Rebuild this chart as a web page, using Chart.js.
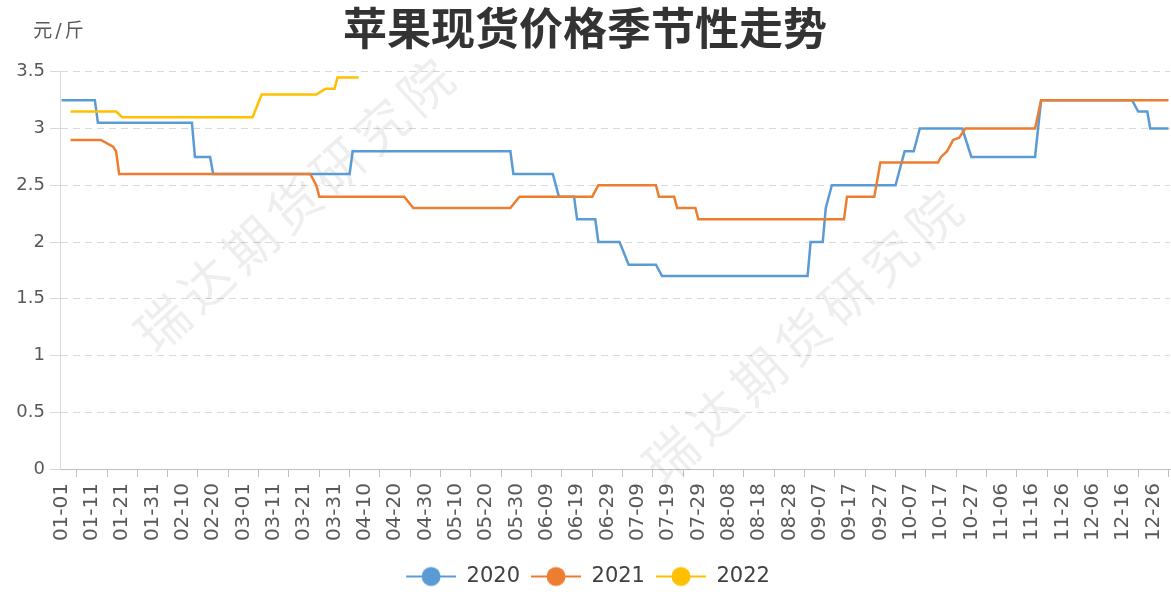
<!DOCTYPE html>
<html>
<head>
<meta charset="utf-8">
<title>苹果现货价格季节性走势</title>
<script src="https://cdn.jsdelivr.net/npm/chart.js@4.4.0/dist/chart.umd.min.js"></script>
<style>
  html, body { margin: 0; padding: 0; background: #fff; }
  .chart-box { width: 1171px; height: 592px; position: relative; }
</style>
</head>
<body>
<div class="chart-box"><canvas id="seasonal"></canvas></div>
<script>
// x = day of year (0 = 01-01), one tick label every 10 days
const tickLabels = ['01-01', '01-11', '01-21', '01-31', '02-10', '02-20', '03-01', '03-11', '03-21', '03-31',
  '04-10', '04-20', '04-30', '05-10', '05-20', '05-30', '06-09', '06-19', '06-29', '07-09', '07-19', '07-29',
  '08-08', '08-18', '08-28', '09-07', '09-17', '09-27', '10-07', '10-17', '10-27', '11-06', '11-16', '11-26',
  '12-06', '12-16', '12-26'];

const years = ['2020', '2021', '2022'];
const colors = ['#5B9BD5', '#ED7D31', '#FFC000'];

// [day, 元/斤] read at each price change
const price2020 = [[0, 3.25], [11, 3.25], [12, 3.05], [43, 3.05], [44, 2.75], [49, 2.75], [50, 2.6], [95, 2.6],
  [96, 2.8], [148, 2.8], [149, 2.6], [162, 2.6], [164, 2.4], [169, 2.4], [170, 2.2], [176, 2.2], [177, 2.0],
  [184, 2.0], [187, 1.8], [196, 1.8], [198, 1.7], [246, 1.7], [247, 2.0], [251, 2.0], [252, 2.3], [254, 2.5],
  [275, 2.5], [278, 2.8], [281, 2.8], [283, 3.0], [297, 3.0], [300, 2.75], [321, 2.75], [323, 3.25], [353, 3.25],
  [355, 3.15], [358, 3.15], [359, 3.0], [365, 3.0]];
const price2021 = [[3, 2.9], [13, 2.9], [17, 2.84], [18, 2.8], [19, 2.6], [82, 2.6], [84, 2.5], [85, 2.4],
  [113, 2.4], [116, 2.3], [148, 2.3], [151, 2.4], [175, 2.4], [177, 2.5], [196, 2.5], [197, 2.4], [202, 2.4],
  [203, 2.3], [209, 2.3], [210, 2.2], [258, 2.2], [259, 2.4], [268, 2.4], [270, 2.7], [289, 2.7], [290, 2.75],
  [292, 2.8], [293, 2.85], [294, 2.9], [296, 2.92], [298, 3.0], [321, 3.0], [323, 3.25], [365, 3.25]];
const price2022 = [[3, 3.15], [18, 3.15], [20, 3.1], [63, 3.1], [66, 3.3], [84, 3.3], [87, 3.35], [90, 3.35],
  [91, 3.45], [98, 3.45]];

const unitText = '元/斤';
const watermarkText = '瑞达期货研究院';
const watermarkSpots = [[0.213, 0.33], [0.671, 0.661]]; // fractions of the plot area

const numFont = '"DejaVu Sans", "Noto Sans CJK SC", sans-serif';

function toPoints(list) {
  return list.map(([d, v]) => ({ x: d, y: v }));
}

// legend marker: short line with a dot in the middle
function legendIcon(color) {
  const c = document.createElement('canvas');
  c.width = 56; c.height = 22;
  const g = c.getContext('2d');
  g.strokeStyle = color;
  g.lineWidth = 2;
  g.beginPath(); g.moveTo(6, 11); g.lineTo(56, 11); g.stroke();
  g.fillStyle = color;
  g.beginPath(); g.arc(31, 11, 9.5, 0, Math.PI * 2); g.fill();
  return c;
}
const legendIcons = colors.map(legendIcon);

const extras = {
  id: 'extras',
  beforeDatasetsDraw(chart) {
    const { ctx, chartArea: a } = chart;
    ctx.save();
    ctx.font = '52px "Noto Sans CJK SC"';
    ctx.letterSpacing = '7px';
    ctx.fillStyle = 'rgba(0,0,0,0.065)';
    ctx.textAlign = 'center';
    ctx.textBaseline = 'middle';
    for (const [fx, fy] of watermarkSpots) {
      ctx.save();
      ctx.translate(a.left + fx * a.width, a.top + fy * a.height);
      ctx.rotate(-42 * Math.PI / 180);
      ctx.fillText(watermarkText, 0, 0);
      ctx.restore();
    }
    ctx.restore();
  },
  afterDraw(chart) {
    const { ctx, chartArea: a } = chart;
    ctx.save();
    ctx.font = '19px ' + numFont;
    ctx.letterSpacing = '3px';
    ctx.fillStyle = '#595959';
    ctx.textAlign = 'center';
    ctx.textBaseline = 'middle';
    ctx.fillText(unitText, a.left, a.top - 40);
    ctx.restore();
  }
};

const priceLists = [price2020, price2021, price2022];

new Chart(document.getElementById('seasonal'), {
  type: 'line',
  data: {
    datasets: years.map((y, i) => ({
      label: y,
      data: toPoints(priceLists[i]),
      borderColor: colors[i],
      backgroundColor: colors[i],
      borderWidth: 2.5,
      pointRadius: 0,
      tension: 0,
      fill: false,
      order: 2 - i
    }))
  },
  options: {
    responsive: true,
    maintainAspectRatio: false,
    animation: false,
    layout: { padding: { left: 0, right: 1, top: 0, bottom: -5 } },
    plugins: {
      tooltip: { enabled: false },
      title: {
        display: true,
        text: '苹果现货价格季节性走势',
        color: '#333',
        font: { family: '"Noto Sans CJK SC", sans-serif', size: 44, weight: 'bold' },
        padding: { top: 2, bottom: 17 }
      },
      legend: {
        position: 'bottom',
        labels: {
          usePointStyle: true,
          pointStyleWidth: 56,
          padding: 5,
          color: '#404040',
          font: { family: numFont, size: 21 },
          generateLabels(chart) {
            const items = Chart.defaults.plugins.legend.labels.generateLabels(chart);
            items.sort((p, q) => p.datasetIndex - q.datasetIndex);
            items.forEach(it => { it.pointStyle = legendIcons[it.datasetIndex]; });
            return items;
          }
        }
      }
    },
    scales: {
      x: {
        type: 'linear',
        min: -0.5,
        max: 365.5,
        afterBuildTicks: (axis) => {
          axis.ticks = tickLabels.map((_, i) => ({ value: i * 10 }));
        },
        afterFit: (axis) => {
          axis.height = 92;
          axis.paddingLeft = 0;
          axis.paddingRight = 0;
        },
        grid: { drawOnChartArea: false, offset: true, tickLength: 8, color: '#bfbfbf' },
        border: { color: '#bfbfbf' },
        ticks: {
          autoSkip: false,
          maxRotation: 90,
          minRotation: 90,
          padding: 6,
          color: '#595959',
          font: { family: numFont, size: 20 },
          callback: (v) => tickLabels[Math.round(v / 10)]
        }
      },
      y: {
        min: 0,
        max: 3.5,
        afterFit: (axis) => { axis.width = 60; },
        grid: { color: '#d9d9d9', tickLength: 10 },
        border: { color: '#d9d9d9', dash: [7, 5] },
        ticks: {
          stepSize: 0.5,
          padding: 5,
          color: '#595959',
          font: { family: numFont, size: 18 },
          callback: (v) => String(v)
        }
      }
    }
  },
  plugins: [extras]
});
</script>
</body>
</html>
